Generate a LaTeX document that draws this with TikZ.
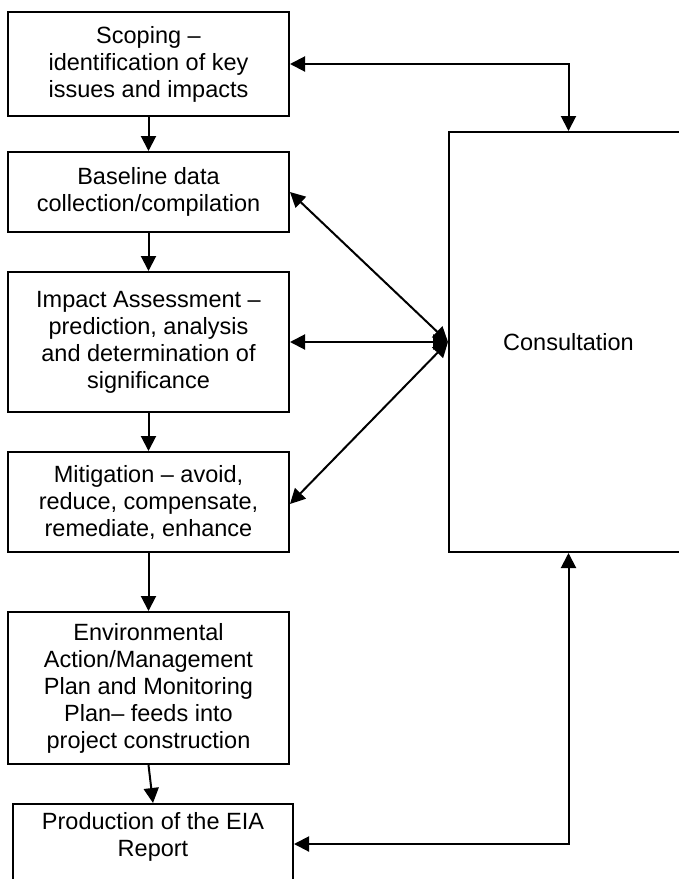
\documentclass[tikz,border=0pt]{standalone}
\usepackage{fontspec}
\setmainfont{Liberation Sans}
\usetikzlibrary{arrows.meta}
\newcommand{\boxfont}{\fontsize{23.5}{27}\selectfont}
\tikzset{
  stepbox/.style={draw, line width=2pt, align=center, font=\boxfont, inner sep=0pt, minimum width=281pt},
  flow/.style={line width=2pt, -{Triangle[length=15pt,width=15pt]}},
  both/.style={line width=2pt, {Triangle[length=15pt,width=15pt]}-{Triangle[length=15pt,width=15pt]}}
}
\begin{document}
\begin{tikzpicture}[x=1pt,y=-1pt]
\useasboundingbox (0,0) rectangle (679,879);
\clip (0,0) rectangle (679,879);
\node[stepbox, minimum height=104pt] (p1) at (148.5,64) {Scoping --\\identification of key\\issues and impacts};
\node[stepbox, minimum height=80pt] (p2) at (148.5,192) {Baseline data\\collection/compilation};
\node[stepbox, minimum height=140pt] (p3) at (148.5,342) {Impact Assessment --\\prediction, analysis\\and determination of\\significance};
\node[stepbox, minimum height=100pt] (p4) at (148.5,502) {Mitigation -- avoid,\\reduce, compensate,\\remediate, enhance};
\node[stepbox, minimum height=152pt] (p5) at (148.5,688) {Environmental\\Action/Management\\Plan and Monitoring\\Plan-- feeds into\\project construction};
\node[stepbox, minimum width=280pt, minimum height=80pt] (p6) at (153,844) {};
\node[align=center, font=\boxfont, inner sep=0pt] (p6t) at (153,837) {Production of the EIA\\Report};
\node[stepbox, minimum width=239pt, minimum height=420pt] (cons) at (568.5,342) {Consultation};

\draw[flow] (p1) -- (p2);
\draw[flow] (p2) -- (p3);
\draw[flow] (p3) -- (p4);
\draw[flow] (p4) -- (p5);
\draw[flow] (p5.south) -- (p6.north);

\draw[both] (p1.east) -| (cons.north);
\draw[both] (cons.west) -- (p2.east);
\draw[both] (cons.west) -- (p3.east);
\draw[both] (cons.west) -- ([yshift=-2pt]p4.east);
\draw[both] (cons.south) |- (p6.east);
\end{tikzpicture}
\end{document}
